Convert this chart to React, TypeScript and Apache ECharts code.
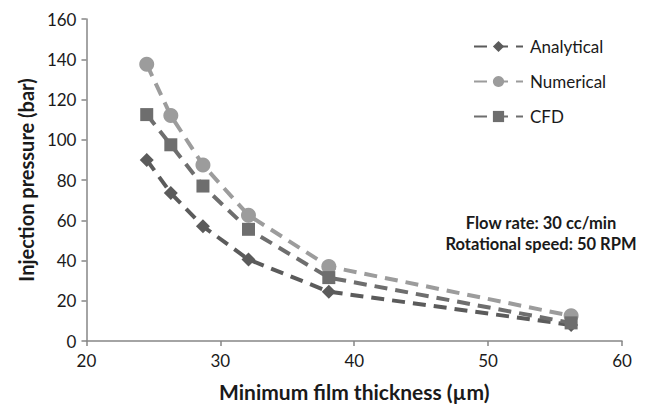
import React, { useEffect, useRef } from "react";
import * as echarts from "echarts";

const thickness = [24.5, 26.3, 28.7, 32.1, 38.1, 56.2];
const analytical = [90, 73.5, 57, 40.5, 24.5, 8];
const numerical = [137.5, 112, 87.5, 62.5, 37, 12.5];
const cfd = [112.5, 97.5, 77, 55.5, 31.5, 9];
const seriesNames = ["Analytical", "Numerical", "CFD"];
const annotation = ["Flow rate: 30 cc/min", "Rotational speed: 50 RPM"];

const FONT = "Lato, 'Open Sans', sans-serif";

export default function App() {
  const ref = useRef<HTMLDivElement>(null);
  useEffect(() => {
    if (!ref.current) return;
    const chart = echarts.init(ref.current, undefined, { renderer: "svg" });
    const pair = (ys: number[]) => thickness.map((x, i) => [x, ys[i]]);
    const mk = (name: string, ys: number[], color: string, symbol: string, size: number) => ({
      name,
      type: "line",
      data: pair(ys),
      symbol,
      symbolSize: size,
      showAllSymbol: true,
      itemStyle: { color },
      lineStyle: { color, width: 4, type: [13, 8] },
    });
    chart.setOption({
      animation: false,
      textStyle: { fontFamily: FONT },
      grid: { left: 75, right: 16, top: 11, bottom: 63 },
      legend: {
        orient: "vertical",
        left: 460,
        top: 25,
        itemWidth: 49,
        itemHeight: 14,
        itemGap: 18,
        data: seriesNames,
        textStyle: { fontFamily: FONT, fontSize: 17, color: "#1a1a1a", padding: [0, 0, 0, 2] },
      },
      xAxis: {
        type: "value",
        min: 20,
        max: 60,
        interval: 10,
        name: "Minimum film thickness (µm)",
        nameLocation: "middle",
        nameGap: 40,
        nameTextStyle: { fontFamily: FONT, fontSize: 21, fontWeight: "bold", color: "#1a1a1a" },
        axisLine: { lineStyle: { color: "#868686", width: 1.5 } },
        axisTick: { show: true, length: 5, lineStyle: { color: "#868686", width: 1.5 } },
        axisLabel: { fontFamily: FONT, fontSize: 17, color: "#1a1a1a", margin: 11 },
        splitLine: { show: false },
      },
      yAxis: {
        type: "value",
        min: 0,
        max: 160,
        interval: 20,
        name: "Injection pressure (bar)",
        nameLocation: "middle",
        nameGap: 46,
        nameTextStyle: { fontFamily: FONT, fontSize: 20, fontWeight: "bold", color: "#1a1a1a" },
        axisLine: { show: true, lineStyle: { color: "#868686", width: 1.5 } },
        axisTick: { show: true, length: 5, lineStyle: { color: "#868686", width: 1.5 } },
        axisLabel: { fontFamily: FONT, fontSize: 17, color: "#1a1a1a", margin: 10 },
        splitLine: { show: false },
      },
      graphic: annotation.map((t, i) => ({
        type: "text",
        x: 533,
        y: 215 + i * 21,
        style: {
          text: t,
          fontFamily: FONT,
          fontSize: 16.5,
          fontWeight: "bold",
          fill: "#1a1a1a",
          align: "center",
          verticalAlign: "middle",
        },
      })),
      series: [
        mk(seriesNames[0], analytical, "#5b5b5b", "diamond", 14),
        mk(seriesNames[1], numerical, "#9c9c9c", "circle", 15),
        mk(seriesNames[2], cfd, "#6e6e6e", "rect", 13),
      ],
    });
    return () => chart.dispose();
  }, []);
  return <div ref={ref} style={{ width: 630, height: 399 }} />;
}
